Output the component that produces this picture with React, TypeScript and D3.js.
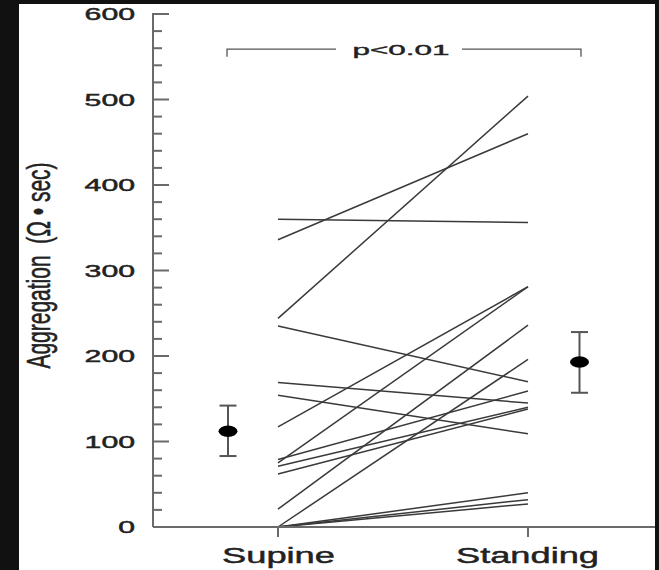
import React from 'react';
import * as d3 from 'd3';

const categories = ['Supine', 'Standing'];
const supineValues = [360, 336, 244, 235, 169, 154, 117, 75, 79, 71, 62, 21, 0, 0, 0, 0];
const standingValues = [356, 460, 504, 170, 145, 109, 281, 281, 159, 140, 138, 236, 196, 40, 32, 27];
const meanValues = [112, 193];
const errLow = [83, 157];
const errHigh = [142, 228];
const yTickValues = [0, 100, 200, 300, 400, 500, 600];
const pLabel = 'p<0.01';
const yLabel = 'Aggregation  (Ω • sec)';

const W = 659;
const H = 570;
const FONT = "'Liberation Sans', Arial, Helvetica, sans-serif";

export default function App() {
  const x = d3.scaleLinear().domain([0, 1]).range([278, 528]);
  const y = d3.scaleLinear().domain([0, 600]).range([527, 14]);
  const minorTicks = d3.range(0, 601, 20);
  const axisX = 153;
  const meanOffset = 0.2;
  const meanX = [x(0 - meanOffset), x(1 + meanOffset) + 1.5];
  const lineGen = d3.line<[number, number]>().x(d => d[0]).y(d => d[1]);

  const bracketY = y(559);
  const bracketEnd = y(550);

  return (
    <div style={{ position: 'fixed', left: 0, top: 0, width: W, height: H, background: '#111' }}>
      <svg width={W} height={H} style={{ display: 'block' }}>
        <rect x={0} y={0} width={W} height={H} fill="#111" />
        <rect x={19} y={4} width={636} height={H - 4} fill="#fff" />

        {/* data lines */}
        <g stroke="#3a3a3a" strokeWidth={1.5} fill="none">
          {supineValues.map((v, i) => (
            <path key={i} d={lineGen([[x(0), y(v)], [x(1), y(standingValues[i])]]) || ''} />
          ))}
        </g>

        {/* y axis */}
        <g stroke="#6a6a6a" strokeWidth={2}>
          <line x1={axisX} x2={axisX} y1={y(0)} y2={y(600) - 1} />
          {minorTicks.map(t => (
            <line key={t} x1={axisX} x2={t % 100 === 0 ? axisX + 16 : axisX + 9} y1={y(t)} y2={y(t)} />
          ))}
          <line x1={axisX} x2={655} y1={y(0)} y2={y(0)} />
          {categories.map((c, i) => (
            <line key={c} x1={x(i)} x2={x(i)} y1={y(0)} y2={y(0) + 10} />
          ))}
        </g>

        {/* tick labels */}
        <g fill="#222" stroke="#222" strokeWidth={0.45} fontFamily={FONT} fontSize={16.5}>
          {yTickValues.map(t => {
            const s = String(t);
            return (
              <text key={t} x={135 - s.length * 16.8} y={y(t) + 6} textLength={s.length * 16.8} lengthAdjust="spacingAndGlyphs">
                {s}
              </text>
            );
          })}
        </g>

        {/* category labels */}
        <g fill="#222" stroke="#222" strokeWidth={0.45} fontFamily={FONT} fontSize={22.3}>
          {categories.map((c, i) => {
            const len = i === 0 ? 113 : 143;
            return (
              <text key={c} x={x(i) + (i === 0 ? 0.5 : -0.5) - len / 2} y={563} textLength={len} lengthAdjust="spacingAndGlyphs">
                {c}
              </text>
            );
          })}
        </g>

        {/* y label */}
        <text
          transform={`translate(49.6, 265.5) scale(1.6, 1) rotate(-90)`}
          textAnchor="middle"
          fontFamily={FONT}
          fontSize={21}
          fill="#222"
          stroke="#222"
          strokeWidth={0.35}
          style={{ whiteSpace: 'pre' }}
        >
          {yLabel}
        </text>

        {/* bracket */}
        <g stroke="#555" strokeWidth={1.3} fill="none">
          <path d={`M${meanX[0] - 1},${bracketEnd} V${bracketY} H336`} />
          <path d={`M462,${bracketY} H${meanX[1] + 1.5} V${bracketEnd}`} />
        </g>
        <text x={401 - 48.5} y={54.5} textLength={97} lengthAdjust="spacingAndGlyphs" fontFamily={FONT} fontSize={15.5} fill="#222" stroke="#222" strokeWidth={0.4}>
          {pLabel}
        </text>

        {/* means with error bars */}
        {meanValues.map((m, i) => (
          <g key={i}>
            <g stroke="#555" strokeWidth={2}>
              <line x1={meanX[i]} x2={meanX[i]} y1={y(errHigh[i])} y2={y(errLow[i])} />
              <line x1={meanX[i] - 8.5} x2={meanX[i] + 8.5} y1={y(errHigh[i])} y2={y(errHigh[i])} />
              <line x1={meanX[i] - 8.5} x2={meanX[i] + 8.5} y1={y(errLow[i])} y2={y(errLow[i])} />
            </g>
            <ellipse cx={meanX[i]} cy={y(m)} rx={9.5} ry={5.8} fill="#000" />
          </g>
        ))}
      </svg>
    </div>
  );
}
